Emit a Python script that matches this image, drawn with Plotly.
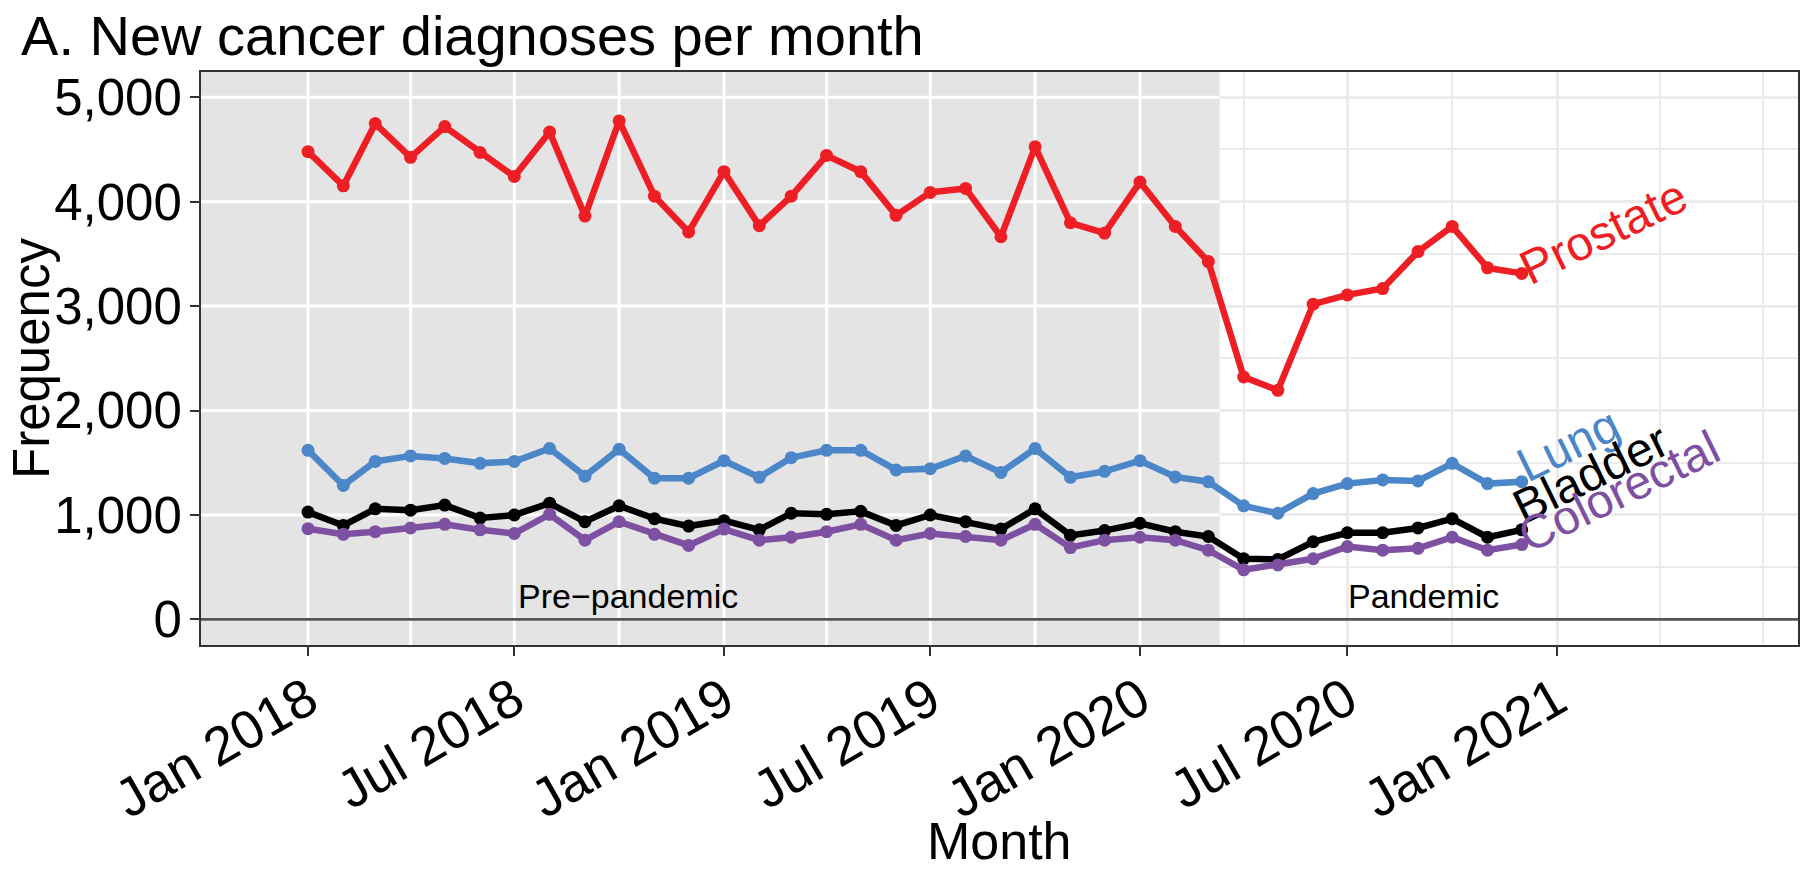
import pandas as pd
import plotly.graph_objects as go

# ---------------- data ----------------
months = pd.date_range("2018-01-01", periods=36, freq="MS")

prostate = [4479, 4152, 4748, 4425, 4719, 4471, 4241, 4667, 3862, 4773, 4053, 3710,
            4287, 3770, 4053, 4443, 4287, 3869, 4089, 4127, 3664, 4525, 3798, 3699,
            4188, 3763, 3426, 2321, 2193, 3018, 3107, 3168, 3522, 3763, 3366, 3313]
lung = [1619, 1282, 1512, 1565, 1541, 1494, 1512, 1636, 1371, 1629, 1352, 1352,
        1519, 1360, 1548, 1619, 1619, 1431, 1442, 1565, 1406, 1636, 1360, 1417,
        1519, 1364, 1318, 1087, 1016, 1204, 1300, 1335, 1325, 1494, 1300, 1318]
bladder = [1027, 899, 1058, 1045, 1094, 970, 999, 1112, 935, 1087, 964, 893,
           945, 857, 1016, 1006, 1034, 899, 999, 935, 864, 1058, 804, 850,
           920, 839, 793, 580, 574, 743, 829, 829, 875, 964, 786, 857]
colorectal = [868, 814, 839, 875, 910, 857, 822, 1006, 758, 935, 814, 708,
              864, 758, 786, 839, 910, 758, 822, 793, 758, 910, 687, 758,
              786, 758, 662, 474, 520, 580, 697, 662, 680, 786, 662, 716]

series_names = ["Prostate", "Lung", "Bladder", "Colorectal"]
series_values = [prostate, lung, bladder, colorectal]
series_colors = ["#ED1F24", "#4A86C8", "#000000", "#7E50A2"]

x_tick_vals = ["2018-01-01", "2018-07-01", "2019-01-01", "2019-07-01",
               "2020-01-01", "2020-07-01", "2021-01-01"]
x_tick_text = ["Jan 2018", "Jul 2018", "Jan 2019", "Jul 2019",
               "Jan 2020", "Jul 2020", "Jan 2021"]
y_ticks = [0, 1000, 2000, 3000, 4000, 5000]

lockdown = pd.Timestamp("2020-03-11")
period_labels = ["Pre\u2212pandemic", "Pandemic"]
period_label_x = ["2018-10-09", "2020-09-06"]

# ---------------- styling ----------------
FONT = "Liberation Sans, Arial, Helvetica, sans-serif"
x_range = [pd.Timestamp("2017-09-29 02:24"), pd.Timestamp("2021-07-31 10:00")]
y_range = [-246, 5242]

# label offsets in px (xshift, yshift) relative to the last point (style only)
label_shift = {"Prostate": (82, 42), "Lung": (47, 37), "Bladder": (69, 56), "Colorectal": (97, 53)}

fig = go.Figure()

# grey pre-pandemic panel (a filled trace so the native light gridlines stay hidden beneath it)
fig.add_trace(go.Scatter(
    x=[x_range[0], lockdown, lockdown, x_range[0], x_range[0]],
    y=[y_range[0], y_range[0], y_range[1], y_range[1], y_range[0]],
    fill="toself", fillcolor="#E4E4E4", mode="lines", line=dict(width=0),
    hoverinfo="skip", showlegend=False))

# white grid lines inside the grey panel
quarters = pd.date_range(months[0], lockdown, freq="QS")
gx, gy = [], []
for q in quarters:
    gx += [q, q, None]
    gy += [y_range[0], y_range[1], None]
for t in y_ticks:
    gx += [x_range[0], lockdown, None]
    gy += [t, t, None]
fig.add_trace(go.Scatter(x=gx, y=gy, mode="lines", line=dict(color="white", width=3),
                         hoverinfo="skip", showlegend=False))

for name, vals, col in zip(series_names, series_values, series_colors):
    fig.add_trace(go.Scatter(
        x=months, y=vals, mode="lines+markers", name=name,
        line=dict(color=col, width=6.5), marker=dict(color=col, size=13),
        showlegend=False))

annotations = []
for name, vals, col in zip(series_names, series_values, series_colors):
    xs, ys = label_shift[name]
    annotations.append(dict(
        x=months[-1], y=vals[-1], text=name, showarrow=False, textangle=-26,
        xanchor="center", yanchor="middle", xshift=xs, yshift=ys,
        font=dict(family=FONT, size=48, color=col)))

for txt, xv in zip(period_labels, period_label_x):
    annotations.append(dict(
        x=xv, y=0, text=txt, showarrow=False, xanchor="center", yanchor="bottom",
        yshift=2, font=dict(family=FONT, size=34, color="black")))

# axis titles as paper annotations for exact placement
annotations.append(dict(
    x=0, y=0.5, xref="paper", yref="paper", text="Frequency", textangle=-90,
    showarrow=False, xanchor="left", yanchor="middle", xshift=-200,
    font=dict(family=FONT, size=51, color="black")))
annotations.append(dict(
    x=0.5, y=0, xref="paper", yref="paper", text="Month",
    showarrow=False, xanchor="center", yanchor="top", yshift=-165,
    font=dict(family=FONT, size=52, color="black")))

fig.update_layout(
    width=1800, height=872, autosize=False,
    margin=dict(l=201, r=2, t=72, b=227, pad=0, autoexpand=False),
    paper_bgcolor="white", plot_bgcolor="white",
    font=dict(family=FONT, color="black"),
    title=dict(text="A. New cancer diagnoses per month", x=0.0117, xanchor="left",
               xref="container", yref="container", y=0.982, yanchor="top",
               pad=dict(t=0, b=0, l=0, r=0),
               font=dict(family=FONT, size=56, color="black")),
    annotations=annotations,
    shapes=[dict(type="line", xref="paper", x0=0, x1=1, yref="y", y0=0, y1=0,
                 line=dict(color="#555555", width=2.7), layer="above")],
)

fig.update_xaxes(
    type="date", range=x_range, tickvals=x_tick_vals, ticktext=x_tick_text,
    tickangle=-30, tickfont=dict(family=FONT, size=54, color="black"),
    ticks="outside", ticklen=9, tickwidth=2, tickcolor="#333333", ticklabelstandoff=-9,
    showgrid=True, gridcolor="#EBEBEB", gridwidth=3,
    minor=dict(tick0="2018-01-01", dtick="M3", showgrid=True, gridcolor="#EBEBEB",
               gridwidth=2, ticks=""),
    showline=True, linecolor="#333333", linewidth=2, mirror=True,
    zeroline=False, automargin=False,
)
fig.update_yaxes(
    range=y_range, tickvals=y_ticks, tickformat=",",
    tickfont=dict(family=FONT, size=51, color="black"),
    ticks="outside", ticklen=9, tickwidth=2, tickcolor="#333333", ticklabelstandoff=-2,
    showgrid=True, gridcolor="#EBEBEB", gridwidth=3,
    minor=dict(dtick=500, showgrid=True, gridcolor="#EBEBEB", gridwidth=2, ticks=""),
    showline=True, linecolor="#333333", linewidth=2, mirror=True,
    zeroline=False, automargin=False,
)

fig.write_html("out.html", config={"displayModeBar": False},
               post_script="document.body.style.margin='0';document.body.style.overflow='hidden';")
